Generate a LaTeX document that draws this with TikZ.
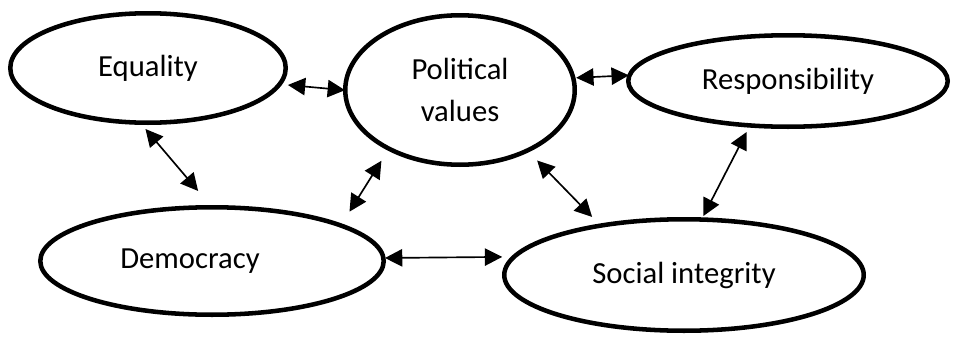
\documentclass[tikz,border=0pt]{standalone}
\usepackage{fontspec}
\setmainfont{Carlito}
\usepackage{tikz}
\usetikzlibrary{shapes.geometric,arrows.meta}

\begin{document}
\begin{tikzpicture}[x=0.75pt, y=-0.75pt,
    oval/.style={draw, ellipse, line width=3.4pt, inner sep=0pt, align=center, font=\fontsize{23}{31}\selectfont},
    link/.style={{Triangle[length=13pt,width=13pt]}-{Triangle[length=13pt,width=13pt]}, line width=1.25pt}]
                \useasboundingbox (0,0) rectangle (954,336);
                \node[oval, minimum width=206.6pt, minimum height=82.1pt] (Eq) at (148,68) {Equality};
                \node[oval, minimum width=172.1pt, minimum height=112.1pt] (Pol) at (460,90) {Political\\values};
                \node[oval, minimum width=239.6pt, minimum height=68.6pt] (Resp) at (788,81) {Responsibility};
                \node[oval, minimum width=257.6pt, minimum height=80.6pt] (Dem) at (212,261) {\hspace*{-33pt}Democracy};
                \node[oval, minimum width=269.6pt, minimum height=83.6pt] (Soc) at (684,275) {Social integrity};
                \draw[link, shorten <=4.4pt, shorten >=-1.5pt] (Eq.-7.6) -- (Pol.180);
                \draw[link, shorten <=0.5pt, shorten >=-1.3pt] (Pol.6.4) -- (Resp.178.9);
                \draw[link, shorten <=4pt, shorten >=13.8pt] (Eq.-96.5) -- (Dem.92.1);
                \draw[link, shorten <=9pt, shorten >=10.7pt] (Pol.220.7) -- (Dem.16.7);
                \draw[link, shorten <=-0.6pt, shorten >=6.75pt] (Dem.1) -- (Soc.174);
                \draw[link, shorten <=8.7pt, shorten >=7.1pt] (Pol.-42.8) -- (Soc.149);
                \draw[link, shorten <=3.7pt, shorten >=1.1pt] (Resp.230.3) -- (Soc.72.4);
            \end{tikzpicture}
\end{document}
